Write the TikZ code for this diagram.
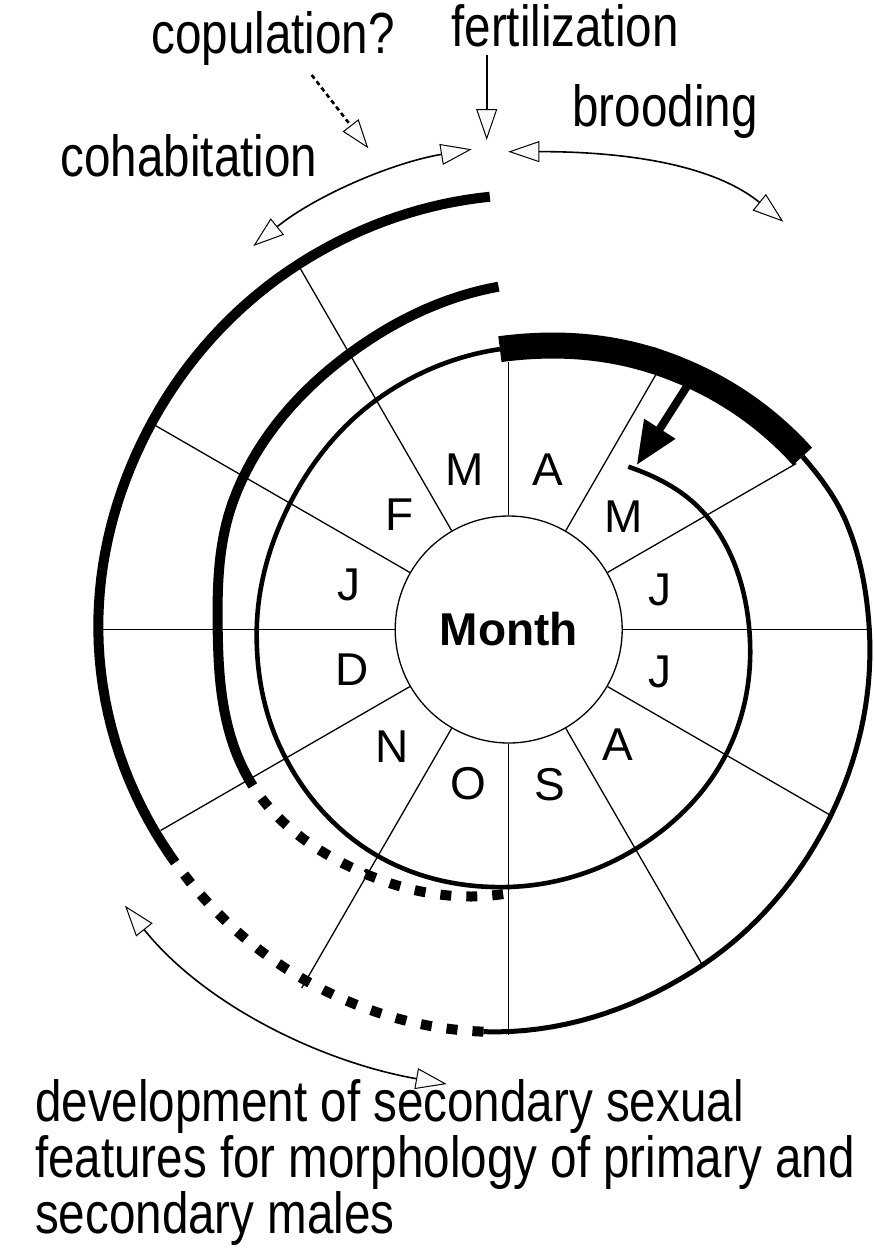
\documentclass[tikz,border=0pt]{standalone}
\usepackage{fontspec}
\setmainfont{Liberation Sans}
\newfontfamily\narrowlab[FakeStretch=0.82]{Liberation Sans}
\usetikzlibrary{arrows.meta}
\definecolor{headfill}{RGB}{248,250,252}
\tikzset{
  declare function={herm(\s,\p,\q,\d,\u,\v)=(2*(\s)^3-3*(\s)^2+1)*(\p)+((\s)^3-2*(\s)^2+(\s))*(\d)*(\u)+(-2*(\s)^3+3*(\s)^2)*(\q)+((\s)^3-(\s)^2)*(\d)*(\v);},
  otri/.tip={Triangle[length=31pt,width=21pt,fill=headfill,line width=1pt]},
  radial/.style={line width=1.3pt},
  lab/.style={font={\narrowlab\fontsize{58}{56}\selectfont}, inner sep=0pt, anchor=base},
  devlab/.style={font={\narrowlab\fontsize{58}{56}\selectfont}, inner sep=0pt, anchor=base west},
  mon/.style={font={\fontsize{46}{46}\selectfont}, inner sep=0pt},
  thinspiral/.style={line width=4.6pt},
  outerline/.style={line width=5pt},
  thickspiral/.style={line width=10pt},
  dashspiral/.style={line width=10pt, dash pattern=on 11pt off 15pt},
  bararc/.style={line width=26pt},
  conn/.style={line width=1.6pt},
}
% #1 style, #2 start angle, #3 start radius, #4 start slope, #5 list a/r/m
\newcommand{\spiralpath}[5]{%
  \draw[#1] ({90-(#2)}:#3)
    \foreach \a/\r/\m [remember=\a as \qa (initially #2),
                       remember=\r as \qr (initially #3),
                       remember=\m as \qm (initially #4)] in {#5} {
      -- plot[domain=\qa:\a, samples=18, variable=\t]
         ({90-\t}:{herm((\t-\qa)/(\a-\qa),\qr,\r,\a-\qa,\qm,\m)})
    };
}
\begin{document}
\begin{tikzpicture}[x=1pt,y=1pt]
\useasboundingbox (0,0) rectangle (873,-1253);
\coordinate (O) at (508.7,-629.5);
\begin{scope}[shift={(O)}]
  % month circle
  \node[circle, draw, fill=white, line width=1.3pt, minimum size=227pt, inner sep=0pt,
        font={\bfseries\fontsize{46}{46}\selectfont}] (month) at (0,0) {Month};
  % radial lines
  \foreach \a/\r in {90/268, 60/296, 30/332, 0/360, -30/372, -60/388, -90/405,
                     -120/414, -150/402, -180/410, -210/414, -240/416}
    \draw[radial] (month.\a) -- (\a:\r);
  % inner spiral
  \spiralpath{thinspiral}{36.3}{202}{1.1}{60/228/0.703, 92.5/241.5/0.378, 120/250.7/0.209,
     150/253.5/0.113, 180/257.5/0.133, 211/261.6/-0.008, 243/257/-0.163, 270/252/-0.079,
     300/252.5/0.217, 330/265/0.481, 358.2/280.5/0.55}
  % brooding bar
  \spiralpath{bararc}{-1.8}{280.5}{0.5}{29/306/1.0, 59.5/341/1.2}
  % outer solid line
  \spiralpath{outerline}{59.5}{341}{1.1}{72/354/0.6, 90/360.6/0.38, 120/372/0.45,
     150/387.5/0.45, 183.6/403/0.2}
  % outer dashed
  \spiralpath{dashspiral}{183.6}{403}{0.2}{210/405.5/0.08, 236.3/407/0.1}
  % outer thick (cohabitation)
  \spiralpath{thickspiral}{236.3}{407}{0.1}{270/410.4/0.06, 300.5/412.6/0.2,
     330.3/421.5/0.36, 357.5/433.2/0.43}
  % middle dashed
  \spiralpath{dashspiral}{181.2}{264.6}{0.8}{210/283/0.6, 240.1/300/0}
  % middle thick
  \spiralpath{thickspiral}{240.1}{300}{0}{270/291/0.07, 295/304/0.46, 330/318.5/0.62,
     358.3/343/0.9}
\end{scope}
% month letters
\node[mon] (m4)  at (548.3,-470)   {A};
\node[mon] (m5)  at (623.3,-517)   {M};
\node[mon] (m6)  at (660,-590)     {J};
\node[mon] (m7)  at (660,-671.7)   {J};
\node[mon] (m8)  at (618.3,-745)   {A};
\node[mon] (m9)  at (550,-785)     {S};
\node[mon] (m10) at (468.3,-783.3) {O};
\node[mon] (m11) at (391.7,-746.7) {N};
\node[mon] (m12) at (351.7,-670)   {D};
\node[mon] (m1)  at (349,-585)     {J};
\node[mon] (m2)  at (400,-515)     {F};
\node[mon] (m3)  at (465,-470)     {M};
% big black arrow
\coordinate (bigfrom) at (686.7,-386.7);
\coordinate (bigto) at (636.7,-465);
\draw[line width=8pt, -{Triangle[length=43pt,width=35pt]}] (bigfrom) -- (bigto);
% labels
\node[lab] (copl) at (273,-53.3) {copulation?};
\node[lab] (fertl) at (565,-46.7) {fertilization};
\node[lab] (broodl) at (665,-126.7) {brooding};
\node[lab] (cohabl) at (189,-176.7) {cohabitation};
\node[devlab] (dev1) at (35,-1121) {development of secondary sexual};
\node[devlab] (dev2) at (35,-1177) {features for morphology of primary and};
\node[devlab] (dev3) at (35,-1233) {secondary males};
% label arrows
\coordinate (fertA) at (486.7,-55);
\coordinate (fertB) at (486.7,-140);
\draw[conn, -otri] (fertA) -- (fertB);
\coordinate (copA) at (311.7,-75);
\coordinate (copB) at (368.3,-148.3);
\draw[line width=2.6pt, dash pattern=on 4.5pt off 3.5pt, -{Triangle[length=29pt,width=20pt,fill=headfill,line width=1pt]}] (copA) -- (copB);
\coordinate (cohA) at (253.3,-246);
\coordinate (cohB) at (471.7,-149.3);
\draw[conn, otri-otri] (cohA) .. controls (315.6,-195.6) and (392.4,-162.6) .. (cohB);
\coordinate (brA) at (508.3,-151.7);
\coordinate (brB) at (783.3,-221.7);
\draw[conn, otri-otri] (brA) .. controls (603.3,-151.5) and (705.9,-158.9) .. (brB);
\coordinate (devA) at (125,-905.7);
\coordinate (devB) at (446.7,-1084);
\draw[conn, otri-otri] (devA) .. controls (205.1,-1005.6) and (322.5,-1062.2) .. (devB);
\end{tikzpicture}
\end{document}
